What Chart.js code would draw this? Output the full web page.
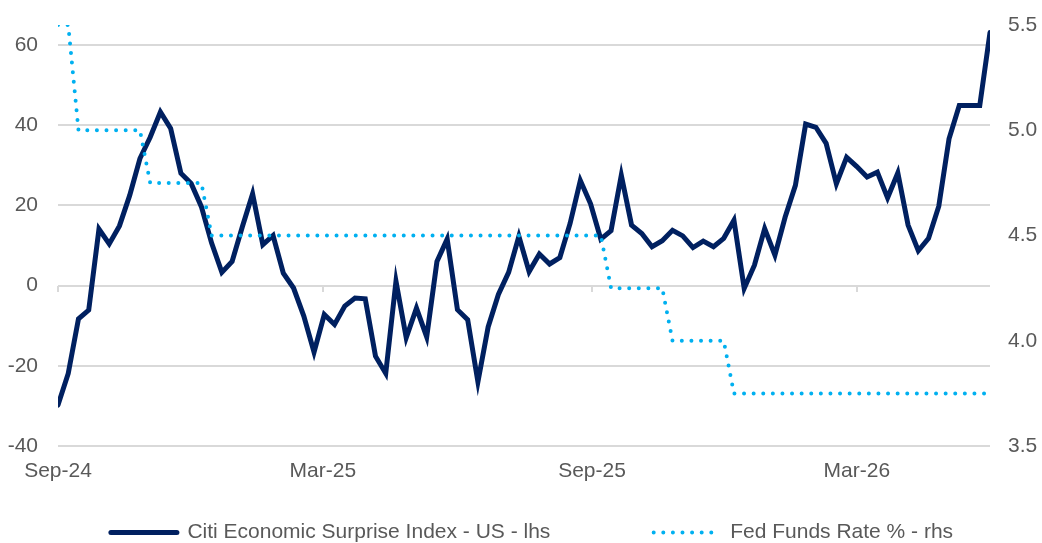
<!DOCTYPE html>
<html lang="en">
<head>
  <meta charset="UTF-8">
  <title>Citi Economic Surprise Index vs Fed Funds Rate</title>
  <script src="https://cdn.jsdelivr.net/npm/chart.js"></script>
  <style>
    body {
      margin: 0;
      padding: 0;
      background: #ffffff;
      overflow: hidden;
    }

    .chart-box {
      width: 1042px;
      height: 553px;
    }
  </style>
</head>
<body>

  <div class="chart-box">
    <canvas id="surpriseChart"></canvas>
  </div>

  <script>
    // weekly observations, first one on 4 Sep 2024
    const startDate = '2024-09-04';
    const weekCount = 92;

    const cesiLabel = 'Citi Economic Surprise Index - US - lhs';
    const cesiValues = [
      -29.8, -21.9, -8.3, -6.1, 14.1, 10.4, 14.9, 22.5, 31.7, 37.0,
      43.3, 39.2, 28.0, 25.5, 19.7, 10.6, 3.3, 6.0, 14.7, 22.9,
      10.2, 12.5, 3.1, -0.6, -7.6, -16.6, -7.2, -9.7, -5.1, -3.1,
      -3.3, -17.6, -21.9, 1.1, -13.0, -5.6, -12.8, 6.0, 11.6, -6.0,
      -8.5, -24.0, -10.3, -2.2, 3.3, 12.3, 3.5, 7.9, 5.4, 7.0,
      15.5, 26.2, 20.4, 11.6, 13.7, 27.5, 15.1, 13.0, 9.7, 11.2,
      13.8, 12.4, 9.5, 11.1, 9.7, 11.8, 16.3, -0.7, 5.1, 14.2,
      7.6, 17.1, 25.0, 40.3, 39.5, 35.5, 25.4, 32.0, 29.7, 27.1,
      28.3, 21.9, 28.1, 15.1, 8.7, 11.8, 19.8, 36.6, 44.9, 44.9,
      44.9, 63.1
    ];

    const fedLabel = 'Fed Funds Rate % - rhs';
    const fedValues = [
      5.5, 5.5, 5.0, 5.0, 5.0, 5.0, 5.0, 5.0, 5.0, 4.75,
      4.75, 4.75, 4.75, 4.75, 4.75, 4.5, 4.5, 4.5, 4.5, 4.5,
      4.5, 4.5, 4.5, 4.5, 4.5, 4.5, 4.5, 4.5, 4.5, 4.5,
      4.5, 4.5, 4.5, 4.5, 4.5, 4.5, 4.5, 4.5, 4.5, 4.5,
      4.5, 4.5, 4.5, 4.5, 4.5, 4.5, 4.5, 4.5, 4.5, 4.5,
      4.5, 4.5, 4.5, 4.5, 4.25, 4.25, 4.25, 4.25, 4.25, 4.25,
      4.0, 4.0, 4.0, 4.0, 4.0, 4.0, 3.75, 3.75, 3.75, 3.75,
      3.75, 3.75, 3.75, 3.75, 3.75, 3.75, 3.75, 3.75, 3.75, 3.75,
      3.75, 3.75, 3.75, 3.75, 3.75, 3.75, 3.75, 3.75, 3.75, 3.75,
      3.75, 3.75
    ];

    const tickDates = ['2024-09-04', '2025-03-04', '2025-09-04', '2026-03-04'];
    const tickLabels = ['Sep-24', 'Mar-25', 'Sep-25', 'Mar-26'];
    const leftTicks = [-40, -20, 0, 20, 40, 60];

    const textColor = '#595959';
    const gridColor = '#D9D9D9';
    const font = { family: "'Liberation Sans', Arial, sans-serif", size: 21 };

    function dayOf(dateStr) {
      return (Date.parse(dateStr) - Date.parse(startDate)) / 86400000;
    }

    const weekDates = [];
    for (let i = 0; i < weekCount; i++) {
      const d = new Date(Date.parse(startDate) + i * 7 * 86400000);
      weekDates.push(d.toISOString().slice(0, 10));
    }

    const tickDays = tickDates.map(dayOf);
    const lastDay = dayOf(weekDates[weekDates.length - 1]);

    const toPoints = values => values.map((v, i) => ({ x: dayOf(weekDates[i]), y: v }));
    const setDateTicks = scale => { scale.ticks = tickDays.map(v => ({ value: v })); };

    new Chart(document.getElementById('surpriseChart'), {
      type: 'line',
      data: {
        datasets: [
          {
            label: cesiLabel,
            data: toPoints(cesiValues),
            yAxisID: 'y',
            borderColor: '#002060',
            backgroundColor: '#002060',
            borderWidth: 5,
            borderCapStyle: 'round',
            pointRadius: 0,
            tension: 0,
            order: 2
          },
          {
            label: fedLabel,
            data: toPoints(fedValues),
            yAxisID: 'y1',
            borderColor: '#00B0F0',
            backgroundColor: '#00B0F0',
            borderWidth: 4,
            borderDash: [0, 9.6],
            borderCapStyle: 'round',
            pointRadius: 0,
            tension: 0,
            order: 1
          }
        ]
      },
      options: {
        responsive: true,
        maintainAspectRatio: false,
        animation: false,
        // negative right padding only pushes the centred legend to the right
        layout: { padding: { top: 25, left: 0, right: -22, bottom: 0 } },
        plugins: {
          tooltip: { enabled: false },
          legend: {
            position: 'bottom',
            labels: {
              usePointStyle: true,
              pointStyle: 'line',
              pointStyleWidth: 66,
              padding: 10,
              color: textColor,
              font: font,
              // build items by hand so the swatches keep the dash and width
              generateLabels: chart => chart.data.datasets.map((ds, i) => ({
                text: ds.label + (i === 0 ? ' '.repeat(16) : ''),
                datasetIndex: i,
                fillStyle: ds.borderColor,
                strokeStyle: ds.borderColor,
                lineWidth: ds.borderWidth,
                lineDash: ds.borderDash || [],
                lineCap: ds.borderCapStyle,
                pointStyle: 'line',
                fontColor: textColor,
                hidden: false
              }))
            }
          }
        },
        scales: {
          x: {
            type: 'linear',
            position: 'bottom',
            min: 0,
            max: lastDay,
            afterBuildTicks: setDateTicks,
            afterFit: scale => { scale.height = 66; },
            grid: { display: false, drawTicks: false },
            border: { display: false },
            ticks: {
              padding: 13,
              maxRotation: 0,
              autoSkip: false,
              color: textColor,
              font: font,
              callback: v => tickLabels[tickDays.indexOf(v)]
            }
          },
          // small tick marks hanging under the zero line
          xZero: {
            type: 'linear',
            position: { y: 0 },
            min: 0,
            max: lastDay,
            afterBuildTicks: setDateTicks,
            grid: { drawOnChartArea: false, drawTicks: true, tickLength: 6, color: gridColor, lineWidth: 2 },
            border: { display: false },
            ticks: { display: false }
          },
          y: {
            position: 'left',
            min: -40,
            max: 65,
            afterBuildTicks: scale => { scale.ticks = leftTicks.map(v => ({ value: v })); },
            afterFit: scale => { scale.width = 58; },
            grid: { color: gridColor, lineWidth: 2, drawTicks: true, tickLength: 20, tickColor: 'rgba(0,0,0,0)' },
            border: { display: false },
            ticks: { padding: 0, color: textColor, font: font }
          },
          y1: {
            position: 'right',
            min: 3.5,
            max: 5.5,
            afterFit: scale => { scale.width = 74; },
            grid: { display: false, drawTicks: true, tickLength: 18 },
            border: { display: false },
            ticks: {
              stepSize: 0.5,
              padding: 0,
              color: textColor,
              font: font,
              callback: v => v.toFixed(1)
            }
          }
        }
      }
    });
  </script>

</body>
</html>
